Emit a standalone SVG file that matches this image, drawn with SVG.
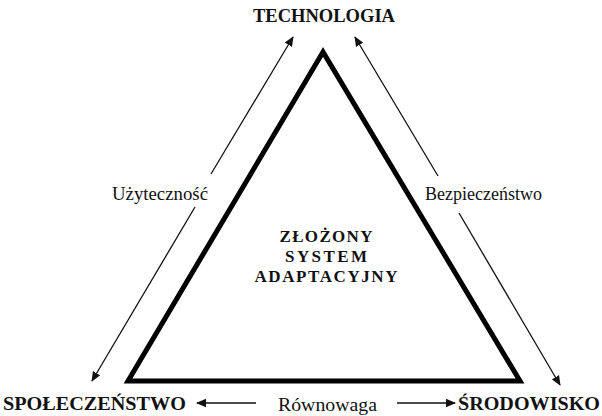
<svg xmlns="http://www.w3.org/2000/svg" width="602" height="416" viewBox="0 0 602 416">
  <style>
    .cap { font-family: "Liberation Serif", "Times New Roman", serif; font-weight: bold; fill: #111; }
    .lbl { font-family: "Liberation Serif", "Times New Roman", serif; fill: #111; }
    .conn { stroke: #111; stroke-width: 1.3; fill: none; }
  </style>
  <defs>
    <marker id="arrow" viewBox="0 0 10 10" refX="9" refY="5" markerWidth="10" markerHeight="10" markerUnits="userSpaceOnUse" orient="auto">
      <path d="M0,0.8 L10,5 L0,9.2 Z" fill="#111"/>
    </marker>
  </defs>
  <rect width="602" height="416" fill="#fff"/>

  <!-- central triangle -->
  <g id="system">
    <polygon points="323,52 128,381 520,381" fill="none" stroke="#000" stroke-width="5" stroke-linejoin="miter"/>
    <text class="cap" x="326" y="242" font-size="17" text-anchor="middle" textLength="93" lengthAdjust="spacing">ZŁOŻONY</text>
    <text class="cap" x="326" y="262" font-size="17" text-anchor="middle" textLength="82" lengthAdjust="spacing">SYSTEM</text>
    <text class="cap" x="326" y="282" font-size="17" text-anchor="middle" textLength="143" lengthAdjust="spacing">ADAPTACYJNY</text>
  </g>

  <g id="technologia">
    <text class="cap" x="253" y="22" font-size="18" textLength="142" lengthAdjust="spacingAndGlyphs">TECHNOLOGIA</text>
  </g>
  <g id="spoleczenstwo">
    <text class="cap" x="3" y="410" font-size="19" textLength="183" lengthAdjust="spacingAndGlyphs">SPOŁECZEŃSTWO</text>
  </g>
  <g id="srodowisko">
    <text class="cap" x="458" y="410" font-size="19" textLength="142" lengthAdjust="spacingAndGlyphs">ŚRODOWISKO</text>
  </g>

  <!-- connectors with their labels -->
  <g id="connectors">
    <!-- Użyteczność: two-way, split around the label -->
    <line class="conn" x1="211" y1="174" x2="293" y2="37" marker-end="url(#arrow)"/>
    <line class="conn" x1="195" y1="207" x2="92" y2="381" marker-end="url(#arrow)"/>
    <text class="lbl" x="112" y="200" font-size="18" textLength="96" lengthAdjust="spacingAndGlyphs">Użyteczność</text>

    <!-- Bezpieczeństwo: two-way, split around the label -->
    <line class="conn" x1="438" y1="176" x2="355" y2="37" marker-end="url(#arrow)"/>
    <line class="conn" x1="459" y1="213" x2="560" y2="385" marker-end="url(#arrow)"/>
    <text class="lbl" x="425" y="200" font-size="18" textLength="117" lengthAdjust="spacingAndGlyphs">Bezpieczeństwo</text>

    <!-- Równowaga: two-way along the base -->
    <line class="conn" x1="256" y1="403" x2="197" y2="403" marker-end="url(#arrow)"/>
    <line class="conn" x1="397" y1="403" x2="455" y2="403" marker-end="url(#arrow)"/>
    <text class="lbl" x="278" y="411" font-size="19" textLength="99" lengthAdjust="spacingAndGlyphs">Równowaga</text>
  </g>
</svg>
